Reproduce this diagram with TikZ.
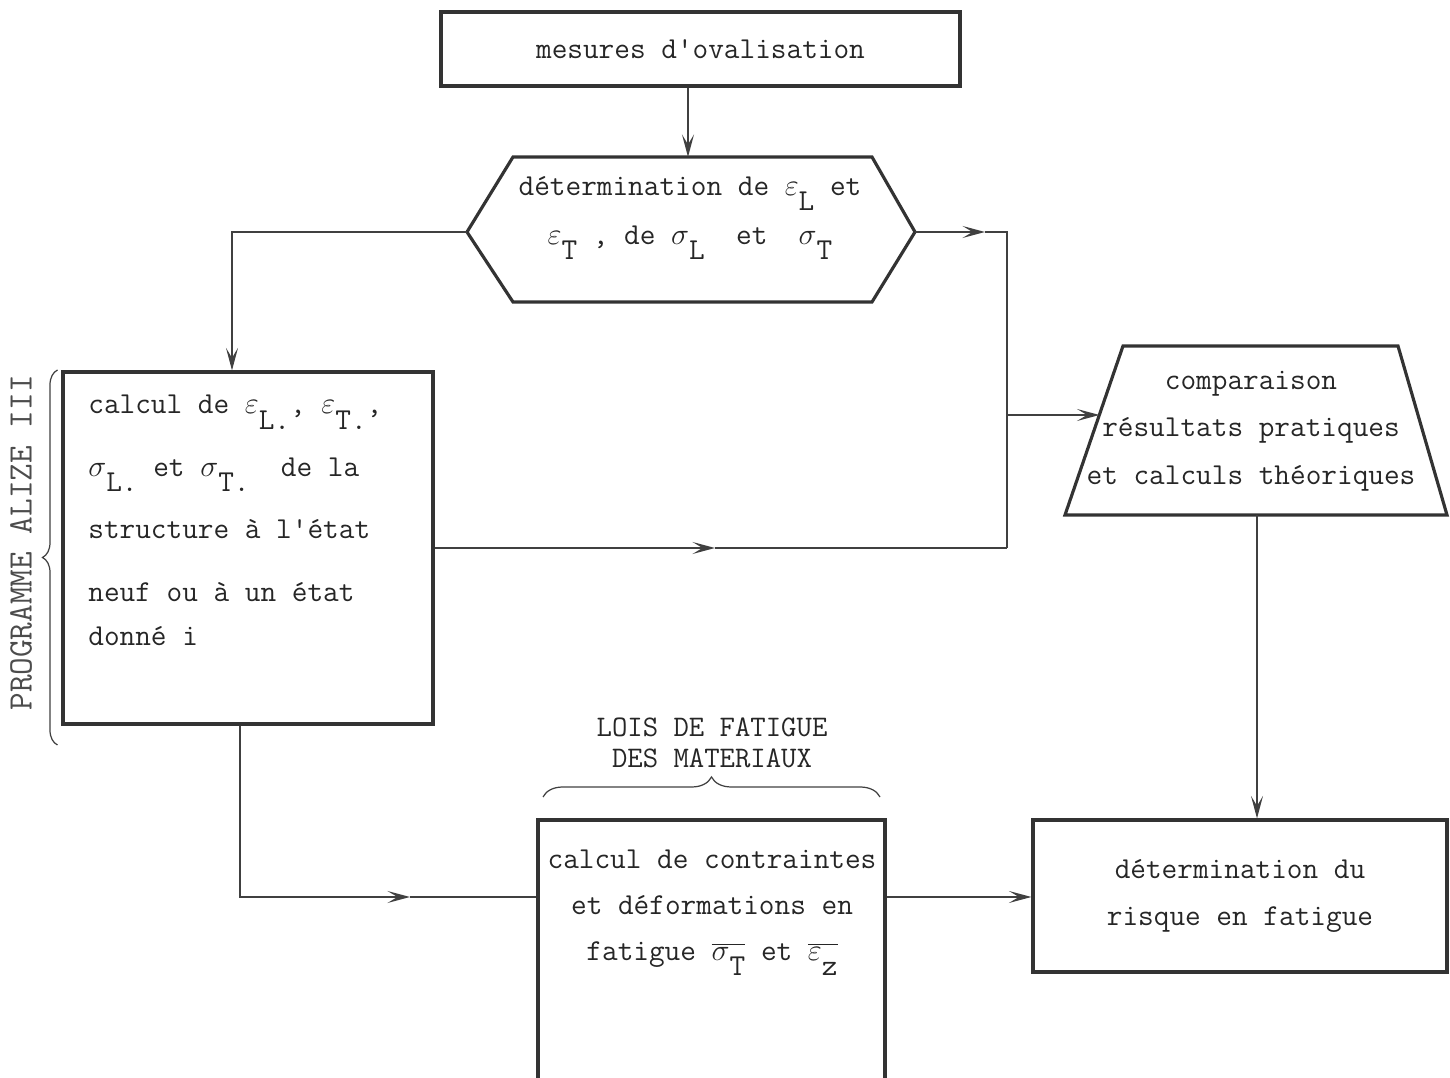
\documentclass[tikz,border=0pt]{standalone}
\usetikzlibrary{arrows.meta,decorations.pathreplacing}
\newcommand{\ix}[1]{\raisebox{-0.5em}{#1}}
\newcommand{\ovl}[1]{$\overline{\hbox{#1}}$}
\newcommand{\eps}{$\varepsilon$}
\newcommand{\sig}{$\sigma$}

\begin{document}
\begin{tikzpicture}
[box/.style={draw=black!80, line width=1.8pt},
 txt/.style={font=\ttfamily\fontsize{17.3}{27}\selectfont, align=center, text=black!85, inner sep=0pt},
 flow/.style={draw=black!75, line width=0.8pt},
 tip/.style={-{Stealth[length=4.5mm,width=2.4mm,inset=2mm]}},
 brace/.style={draw=black!75, line width=0.7pt, decorate, decoration={brace,amplitude=#1}}
]
\useasboundingbox (0,0) rectangle (29,21.56);
\clip (0,0) rectangle (29,21.56);
%\draw[help lines] (0,0) grid (29,21);

\node[box, txt, minimum width=10.38cm, minimum height=1.48cm] (mes) at (14.01,20.58) {mesures d'ovalisation};

% hexagone
\coordinate (hexL) at (9.34,16.92);
\coordinate (hexR) at (18.30,16.92);
\coordinate (hexT) at (13.76,18.42);
\draw[box] (hexL) -- (10.26,18.42) -- (17.44,18.42) -- (hexR)
    -- (17.44,15.52) -- (10.26,15.52) -- cycle;
\node[txt, font=\ttfamily\fontsize{17.3}{28}\selectfont] (det) at (13.8,17.2)
    {détermination de \eps\ix{L} et\\ \eps\ix{T} , de \sig\ix{L}\ \ et\ \ \sig\ix{T}};

\node[box, minimum width=7.4cm, minimum height=7.04cm] (calc) at (4.96,10.6) {};
\node[txt, align=left, anchor=north west, font=\ttfamily\fontsize{17.3}{35.5}\selectfont] (calctxt) at (1.76,13.66)
    {calcul de \eps\ix{L.}, \eps\ix{T.},\\
     \sig\ix{L.} et \sig\ix{T.}\ \ de la\\
     structure à l'état\\
     neuf ou à un état\\[-10pt]
     donné i};

% trapeze
\coordinate (trBL) at (21.30,11.26);
\coordinate (trBR) at (28.94,11.26);
\coordinate (trTR) at (27.96,14.64);
\coordinate (trTL) at (22.46,14.64);
\coordinate (trIn) at (21.99,13.26);
\coordinate (trOut) at (25.14,11.26);
\draw[box] (trBL) -- (trTL) -- (trTR) -- (trBR) -- cycle;
\node[txt] (comp) at (25.02,12.94) {comparaison\\ résultats pratiques\\ et calculs théoriques};

\node[box, txt, minimum width=8.28cm, minimum height=3.04cm] (risk) at (24.8,3.64)
    {détermination du\\ risque en fatigue};

\node[box, minimum width=6.94cm, minimum height=5.66cm] (cont) at (14.23,2.33) {};
\node[txt, font=\ttfamily\fontsize{17.3}{26}\selectfont] (conttxt) at (14.24,3.3)
    {calcul de contraintes\\ et déformations en\\ fatigue \ovl{\sig\ix{T}} et \ovl{\eps\ix{z}}};

% accolades
\draw[brace=0.3cm] (1.15,6.66) -- (1.15,14.16);
\node[txt, font=\ttfamily\fontsize{19.5}{22}\selectfont, rotate=90, text=black!70] (prog) at (0.42,10.7) {PROGRAMME ALIZE III};
\draw[brace=0.4cm] (10.86,5.62) -- (17.6,5.62);
\node[txt, font=\ttfamily\fontsize{17}{17.5}\selectfont] (lois) at (14.24,6.71) {LOIS DE FATIGUE\\ DES MATERIAUX};

% liaisons
\coordinate (lv) at (4.64,16.92);
\coordinate (rv) at (20.14,16.92);
\coordinate (rb) at (20.14,10.6);
\coordinate (lvB) at (4.8,3.62);
\coordinate (m1) at (8.2,3.62);
\coordinate (m2) at (19.7,16.92);
\coordinate (m3) at (14.3,10.6);

\draw[flow, tip] (mes.south -| hexT) -- (hexT);
\draw[flow, tip] (hexL) -- (lv) -- (lv |- calc.north);
\draw[flow, tip] (hexR) -- (m2);
\draw[flow] (m2) -- (rv) -- (rb);
\draw[flow, tip] (calc.east |- rb) -- (m3);
\draw[flow] (m3) -- (rb);
\draw[flow, tip] (rv |- trIn) -- (trIn);
\draw[flow, tip] (trOut) -- (trOut |- risk.north);
\draw[flow, tip] (lvB |- calc.south) -- (lvB) -- (m1);
\draw[flow] (m1) -- (cont.west |- lvB);
\draw[flow, tip] (cont.east |- lvB) -- (risk.west |- lvB);
\end{tikzpicture}
\end{document}
